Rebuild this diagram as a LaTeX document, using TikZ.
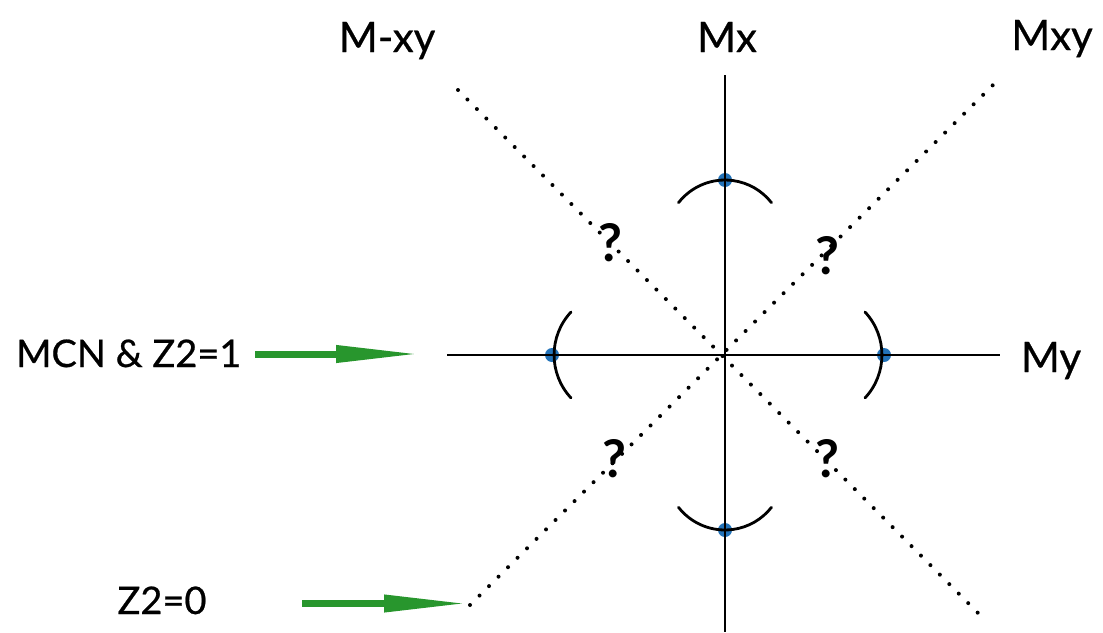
\documentclass[tikz,border=0pt]{standalone}
\usepackage{fontspec}
\setmainfont{Lato}
\newfontfamily\labfont{Lato}[FakeBold=0.6]
\usetikzlibrary{arrows.meta}
\definecolor{arrowgreen}{RGB}{40,150,45}
\definecolor{dotblue}{RGB}{35,115,185}
\begin{document}
\begin{tikzpicture}[x=1pt,y=-1pt,
  axis/.style={line width=2.6pt, black},
  diag/.style={line width=4pt, line cap=round, dash pattern=on 0pt off 13.4pt},
  bracket/.style={line width=2.8pt, black, line cap=round},
  point/.style={circle, fill=dotblue, inner sep=0pt, minimum size=14pt},
  lab/.style={font=\labfont\fontsize{42}{50}\selectfont, inner sep=0pt, anchor=base},
  sidelab/.style={font=\labfont\fontsize{38}{46}\selectfont, inner sep=0pt},
  qmark/.style={font=\bfseries\fontsize{52}{60}\selectfont, inner sep=0pt},
  greenarrow/.style={arrowgreen, line width=7pt, -{Triangle[length=85pt,width=16pt]}}]
\useasboundingbox (0,0) rectangle (1103,632);
% points
\node[point] (pT) at (725,180) {};
\node[point] (pB) at (725,530) {};
\node[point] (pL) at (552,355) {};
\node[point] (pR) at (884,355) {};
% axes
\coordinate (vtop) at (725,75);
\coordinate (vbot) at (725,632);
\coordinate (hl) at (447,355);
\coordinate (hr) at (1000,355);
\draw[axis] (vtop) -- (vbot);
\draw[axis] (hl) -- (hr);
% diagonals
\coordinate (d1a) at (458,90);
\coordinate (d1b) at (980,615);
\coordinate (d2a) at (470,605);
\coordinate (d2b) at (993,85);
\draw[diag] (d1a) -- (d1b);
\draw[diag] (d2a) -- (d2b);
% arcs
\draw[bracket] (678.5,202.7) arc[start angle=-142, end angle=-38, radius=59];
\draw[bracket] (678.5,507.3) arc[start angle=142, end angle=38, radius=59];
\draw[bracket] (571,312) arc[start angle=223, end angle=137, radius=63];
\draw[bracket] (865,312) arc[start angle=-43, end angle=43, radius=63];
% question marks
\node[qmark] (q1) at (610,243) {?};
\node[qmark] (q2) at (827,256) {?};
\node[qmark] (q3) at (614,459) {?};
\node[qmark] (q4) at (827,459) {?};
% labels
\node[lab] (lMmxy) at (387,52) {M-xy};
\node[lab] (lMx) at (727,52) {Mx};
\node[lab] (lMxy) at (1052,50) {Mxy};
\node[lab] (lMy) at (1051,372) {My};
\node[sidelab, anchor=base west] (lMCN) at (16,367) {MCN \& Z2=1};
\node[sidelab, anchor=base] (lZ) at (162,614) {Z2=0};
% green arrows
\coordinate (a1s) at (255,354);
\coordinate (a1e) at (421,354);
\coordinate (a2s) at (302,603.5);
\coordinate (a2e) at (469,603.5);
\draw[greenarrow] (a1s) -- (a1e);
\draw[greenarrow] (a2s) -- (a2e);
\end{tikzpicture}
\end{document}
